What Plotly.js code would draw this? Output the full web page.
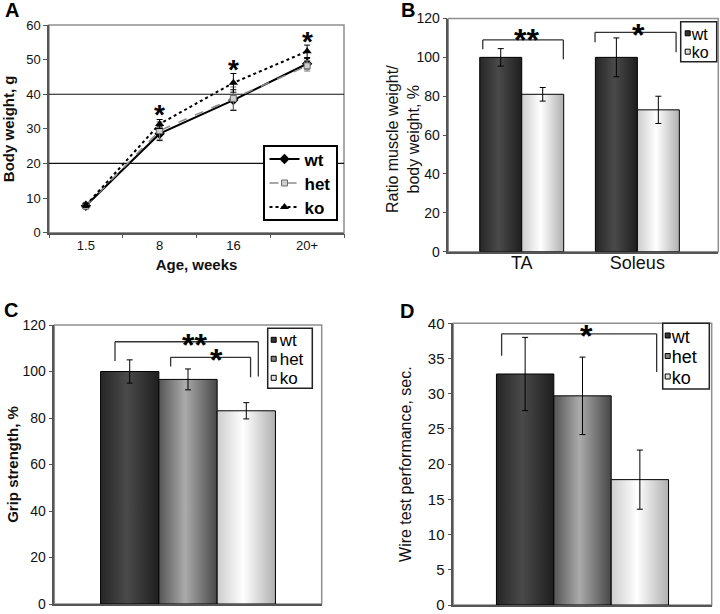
<!DOCTYPE html>
<html><head><meta charset="utf-8">
<script src="https://cdn.plot.ly/plotly-3.0.1.min.js"></script>
<style>html,body{margin:0;padding:0;background:#fff}#chart{width:720px;height:614px}</style>
</head><body><div id="chart"></div>
<script>
// ---------- Panel A: body weight over age ----------
const ageWeeks = ['1.5', '8', '16', '20+'];
const bwWt = [7.8, 28.6, 38.3, 48.8];
const bwWtErr = [0.8, 2.0, 3.0, 1.5];
const bwHet = [7.7, 29.5, 38.8, 48.2];
const bwHetErr = [0.8, 2.5, 3.3, 1.5];
const bwKo = [7.9, 31.4, 43.3, 52.4];
const bwKoErr = [0.6, 1.3, 2.7, 1.8];
const bwGrid = [20, 40];
const starsA = [['*', '8', 36], ['*', '16', 49], ['*', '20+', 57]];

// ---------- Panel B: muscle / body weight ratio ----------
const muscles = ['TA', 'Soleus'];
const ratioWt = [100, 100];
const ratioWtErr = [4.5, 10];
const ratioKo = [81, 73];
const ratioKoErr = [3.5, 7];
const bracketsB = [[-0.337, 0.36, 109, 104.2, 99], [0.634, 1.335, 112.9, 107.8, 102.6]];
const starsB = [['**', 0.043, 112.4], ['*', 1.006, 115.1]];

// ---------- Panel C: grip strength ----------
const gripCat = ['Grip'];
const gripWt = [100], gripWtErr = [5];
const gripHet = [96.6], gripHetErr = [4.5];
const gripKo = [83.1], gripKoErr = [3.5];
const bracketsC = [[-0.273, 0.263, 112.8, 104.5, 97.8], [-0.065, 0.234, 106.1, 102.1, 97.5]];
const starsC = [['**', 0.026, 114.4], ['*', 0.107, 108]];

// ---------- Panel D: wire test ----------
const wireCat = ['Wire'];
const wireWt = [32.8], wireWtErr = [5.2];
const wireHet = [29.7], wireHetErr = [5.5];
const wireKo = [17.8], wireKoErr = [4.2];
const bracketsD = [[-0.313, 0.287, 38.5, 35.4, 33.1]];
const starsD = [['*', 0.016, 39.2]];

// ---------- styling helpers ----------
const W = 720, H = 614;
const px = v => v / W, py = v => 1 - v / H;
const FONT = 'Arial, "Liberation Sans", sans-serif';
const barColor = {wt: '#333333', het: '#7f7f7f', ko: '#e2e2e2'};
const barShades = {
  wt: [[0, '#262626'], [0.45, '#4a4a4a'], [1, '#1e1e1e']],
  het: [[0, '#555555'], [0.45, '#ababab'], [1, '#474747']],
  ko: [[0, '#cdcdcd'], [0.45, '#ffffff'], [1, '#b0b0b0']]
};
const errStyle = arr => ({type: 'data', array: arr, color: '#000', thickness: 1, width: 3});

const traces = [];
// A
traces.push({type: 'scatter', mode: 'lines+markers', name: 'wt', x: ageWeeks, y: bwWt,
  error_y: errStyle(bwWtErr), line: {color: '#000', width: 2},
  marker: {symbol: 'diamond', size: 8, color: '#000'}, xaxis: 'x', yaxis: 'y', legend: 'legend'});
traces.push({type: 'scatter', mode: 'lines+markers', name: 'het', x: ageWeeks, y: bwHet,
  error_y: Object.assign(errStyle(bwHetErr), {color: '#777'}), line: {color: '#8a8a8a', width: 1.5, dash: 'dash'},
  marker: {symbol: 'square', size: 6, color: '#cfcfcf', line: {color: '#6f6f6f', width: 1}}, xaxis: 'x', yaxis: 'y', legend: 'legend'});
traces.push({type: 'scatter', mode: 'lines+markers', name: 'ko', x: ageWeeks, y: bwKo,
  error_y: errStyle(bwKoErr), line: {color: '#000', width: 2, dash: 'dot'},
  marker: {symbol: 'triangle-up', size: 8, color: '#000'}, xaxis: 'x', yaxis: 'y', legend: 'legend'});

function bar(name, x, y, err, off, w, ax, lg) {
  return {type: 'bar', name, x, y, error_y: errStyle(err), offset: off, width: w,
    marker: {color: barColor[name], line: {color: '#000', width: 1}},
    xaxis: 'x' + ax, yaxis: 'y' + ax, legend: lg};
}
// B
traces.push(bar('wt', muscles, ratioWt, ratioWtErr, -0.363, 0.363, 2, 'legend2'));
traces.push(bar('ko', muscles, ratioKo, ratioKoErr, 0, 0.363, 2, 'legend2'));
// C
traces.push(bar('wt', gripCat, gripWt, gripWtErr, -0.327, 0.218, 3, 'legend3'));
traces.push(bar('het', gripCat, gripHet, gripHetErr, -0.109, 0.218, 3, 'legend3'));
traces.push(bar('ko', gripCat, gripKo, gripKoErr, 0.109, 0.218, 3, 'legend3'));
// D
traces.push(bar('wt', wireCat, wireWt, wireWtErr, -0.333, 0.222, 4, 'legend4'));
traces.push(bar('het', wireCat, wireHet, wireHetErr, -0.111, 0.222, 4, 'legend4'));
traces.push(bar('ko', wireCat, wireKo, wireKoErr, 0.111, 0.222, 4, 'legend4'));

const axisLine = {showline: true, linecolor: '#555', linewidth: 1.5, showgrid: false, zeroline: false, fixedrange: true};
const yBase = Object.assign({}, axisLine, {ticks: 'outside', ticklen: 4, tickcolor: '#555', tickfont: {size: 14, color: '#111'}});
const clearLegend = {xanchor: 'left', yanchor: 'top', bgcolor: 'rgba(0,0,0,0)', borderwidth: 0};

const layout = {
  width: W, height: H,
  margin: {l: 0, r: 0, t: 0, b: 0, autoexpand: false},
  paper_bgcolor: '#fff', plot_bgcolor: 'rgba(0,0,0,0)',
  font: {family: FONT, color: '#111'},
  showlegend: true, barmode: 'group',
  xaxis: Object.assign({}, axisLine, {domain: [px(49), px(344)], anchor: 'y', type: 'category',
    range: [-0.5, 3.5], tickson: 'boundaries', ticks: 'outside', ticklen: 4, tickcolor: '#555',
    tickfont: {size: 13, color: '#111'},
    title: {text: 'Age, weeks', font: {size: 15, weight: 'bold', color: '#111'}, standoff: 7}}),
  yaxis: Object.assign({}, yBase, {domain: [py(232.7), py(25)], anchor: 'x', range: [0, 60], dtick: 10,
    tickfont: {size: 13, color: '#111'},
    title: {text: 'Body weight, g', font: {size: 15, weight: 'bold', color: '#111'}, standoff: 12}}),
  xaxis2: Object.assign({}, axisLine, {domain: [px(448.3), px(718.3)], anchor: 'y2', type: 'category',
    range: [-0.635, 1.70], ticks: '', ticklabelstandoff: -6, tickfont: {size: 18, color: '#111'}}),
  yaxis2: Object.assign({}, yBase, {domain: [py(251.7), py(18.5)], anchor: 'x2', range: [0, 120], dtick: 20}),
  xaxis3: Object.assign({}, axisLine, {domain: [px(54.3), px(321.7)], anchor: 'y3', type: 'category',
    range: [-0.5, 0.5], ticks: '', showticklabels: false}),
  yaxis3: Object.assign({}, yBase, {domain: [py(604), py(325)], anchor: 'x3', range: [0, 120], dtick: 20,
    title: {text: 'Grip strength, %', font: {size: 15, weight: 'bold', color: '#111'}, standoff: 0}}),
  xaxis4: Object.assign({}, axisLine, {domain: [px(453.3), px(711.7)], anchor: 'y4', type: 'category',
    range: [-0.5, 0.5], ticks: '', showticklabels: false}),
  yaxis4: Object.assign({}, yBase, {domain: [py(605), py(323.3)], anchor: 'x4', range: [0, 40], dtick: 5,
    tickfont: {size: 15, color: '#111'},
    title: {text: 'Wire test performance, sec.', font: {size: 16, color: '#111'}, standoff: 12}}),
  legend: {x: px(263), y: py(145), xanchor: 'left', yanchor: 'top', bgcolor: '#fff', bordercolor: '#000',
    borderwidth: 1.5, font: {size: 17, weight: 'bold', color: '#000'}},
  legend2: Object.assign({x: px(680.7), y: py(21.7), font: {size: 16, color: '#000'}}, clearLegend),
  legend3: Object.assign({x: px(267.7), y: py(328.3), font: {size: 17, color: '#000'}}, clearLegend),
  legend4: Object.assign({x: px(662.7), y: py(323.3), font: {size: 18, color: '#000'}}, clearLegend),
  shapes: [], annotations: []
};

// plot-area frames (gray box like the spreadsheet charts)
['', '2', '3', '4'].forEach(s => {
  layout.shapes.push({type: 'rect', xref: 'x' + s + ' domain', yref: 'y' + s + ' domain',
    x0: 0, x1: 1, y0: 0, y1: 1, line: {color: '#8f8f8f', width: 1.5}, layer: 'below'});
});
// boxes behind the compact legends of panels B, C, D
[[680.7, 716.7, 21.7, 61.7], [267.7, 312.3, 328.3, 388.3], [662.7, 709.3, 323.3, 389]].forEach(([l, r, t, b]) =>
  layout.shapes.push({type: 'rect', xref: 'paper', yref: 'paper', x0: px(l), x1: px(r), y0: py(b), y1: py(t),
    fillcolor: '#fff', line: {color: '#222', width: 1.5}, layer: 'above'}));
// horizontal gridlines of panel A
bwGrid.forEach(g => layout.shapes.push({type: 'line', xref: 'x domain', yref: 'y', x0: 0, x1: 1, y0: g, y1: g,
  line: {color: '#111', width: 1.2}, layer: 'below'}));
// significance brackets
function addBrackets(list, ax) {
  list.forEach(([x0, x1, y, yl, yr]) => {
    const base = {type: 'line', xref: 'x' + ax, yref: 'y' + ax, line: {color: '#333', width: 1.3}};
    layout.shapes.push(Object.assign({}, base, {x0: x0, x1: x1, y0: y, y1: y}));
    layout.shapes.push(Object.assign({}, base, {x0: x0, x1: x0, y0: y, y1: yl}));
    layout.shapes.push(Object.assign({}, base, {x0: x1, x1: x1, y0: y, y1: yr}));
  });
}
addBrackets(bracketsB, 2); addBrackets(bracketsC, 3); addBrackets(bracketsD, 4);

function addStars(list, ax, size, isCat) {
  list.forEach(([t, x, y]) => layout.annotations.push({text: t, xref: 'x' + ax, yref: 'y' + ax,
    x: isCat ? ageWeeks.indexOf(x) : x, y: y, showarrow: false, xanchor: 'center', yanchor: 'middle',
    yshift: -0.22 * size, font: {size: size, weight: 'bold', color: '#000'}}));
}
addStars(starsA, '', 28, true);
addStars(starsB, '2', 32, false);
addStars(starsC, '3', 32, false);
addStars(starsD, '4', 32, false);

// y title of panel B (two lines, sits close to its tick labels)
layout.annotations.push({text: 'Ratio muscle weight/<br>body weight, %', xref: 'paper', yref: 'paper',
  x: px(403), y: py(139), xanchor: 'center', yanchor: 'middle', textangle: -90, showarrow: false,
  font: {size: 16, color: '#111'}});

// panel letters
[['A', 3, 10], ['B', 399, 10], ['C', 2, 310], ['D', 398, 311]].forEach(([t, x, y]) =>
  layout.annotations.push({text: t, xref: 'paper', yref: 'paper', x: px(x), y: py(y), xanchor: 'left',
    yanchor: 'middle', showarrow: false, font: {size: 20, weight: 'bold', color: '#000'}}));

const gd = document.getElementById('chart');
const NS = 'http://www.w3.org/2000/svg';

// tighten legend items to the compact spreadsheet look
function compactLegend(id, o) {
  const lg = gd.querySelector('.infolayer .' + id);
  if (!lg) return;
  let right = 0;
  lg.querySelectorAll('g.traces').forEach((tr, i) => {
    const m = /translate\(\s*([-\d.]+)[ ,]+([-\d.]+)/.exec(tr.getAttribute('transform') || '');
    const tx = m ? parseFloat(m[1]) : 0;
    tr.setAttribute('transform', `translate(${tx},${o.firstY + i * o.step})`);
    const t = tr.querySelector('text');
    if (t) {
      if (o.textX != null) {
        t.setAttribute('x', o.textX);
        t.querySelectorAll('tspan').forEach(s => { if (s.hasAttribute('x')) s.setAttribute('x', o.textX); });
      }
      let r = 0;
      try { const bb = t.getBBox(); r = bb.x + bb.width; } catch (e) { r = 0; }
      if (!isFinite(r) || r <= 0) r = (o.textX || 40) + 20;
      right = Math.max(right, tx + r);
    }
    if (o.cx != null) {
      tr.querySelectorAll('g.legendpoints path').forEach(p => {
        const h = o.half;
        p.setAttribute('d', `M${h},${h}H${-h}V${-h}H${h}Z`);
        p.setAttribute('transform', `translate(${o.cx},0)`);
      });
    }
  });
  if (o.height) {
    const w = Math.round(right + o.padR);
    const bg = lg.querySelector('rect.bg');
    if (bg) { bg.setAttribute('width', w); bg.setAttribute('height', o.height); }
  }
}

function applyShades() {
  const svg = gd.querySelector('svg.main-svg');
  const defs = document.createElementNS(NS, 'defs');
  Object.keys(barShades).forEach(name => {
    const g = document.createElementNS(NS, 'linearGradient');
    g.setAttribute('id', 'shade-' + name);
    g.setAttribute('x1', '0'); g.setAttribute('y1', '0'); g.setAttribute('x2', '1'); g.setAttribute('y2', '0');
    barShades[name].forEach(([o, c]) => {
      const st = document.createElementNS(NS, 'stop');
      st.setAttribute('offset', o); st.setAttribute('stop-color', c);
      g.appendChild(st);
    });
    defs.appendChild(g);
  });
  svg.insertBefore(defs, svg.firstChild);
  gd.querySelectorAll('.barlayer .trace.bars').forEach(tr => {
    const d = tr.__data__;
    const name = d && d[0] && d[0].trace && d[0].trace.name;
    if (!barShades[name]) return;
    tr.querySelectorAll('.point path').forEach(p => { p.style.fill = `url(#shade-${name})`; });
  });
}

Plotly.newPlot(gd, traces, layout, {displayModeBar: false, responsive: false}).then(() => {
  compactLegend('legend', {firstY: 14, step: 24, height: 74, padR: 6});
  compactLegend('legend2', {firstY: 11.6, step: 18.4, cx: 7, half: 2.5, textX: 11});
  compactLegend('legend3', {firstY: 11.5, step: 19, cx: 6, half: 2.5, textX: 12});
  compactLegend('legend4', {firstY: 12.2, step: 20.5, cx: 5, half: 2.5, textX: 9});
  applyShades();
});
</script>
</body></html>
